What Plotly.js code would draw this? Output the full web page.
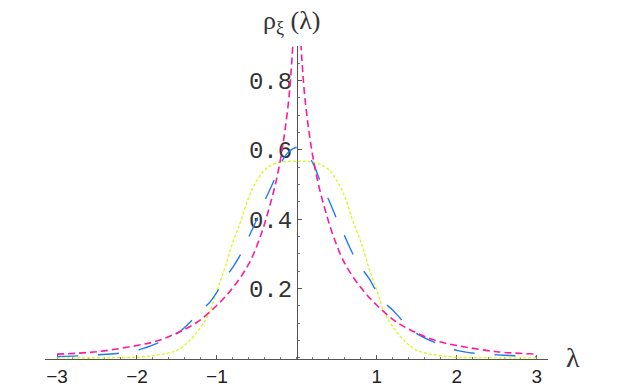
<!DOCTYPE html>
<html>
<head>
<meta charset="utf-8">
<script src="https://cdn.plot.ly/plotly-3.0.1.min.js"></script>
<style>
  body { margin: 0; background: #fff; }
  #density { width: 629px; height: 389px; }
</style>
</head>
<body>
<div id="density"></div>
<script>
// eigenvalue densities

const lambdaGrid = [-3, -2.75, -2.5, -2.25, -2, -1.75, -1.5, -1.35, -1.2, -1.1, -1, -0.9, -0.8, -0.7, -0.6, -0.5, -0.4, -0.3, -0.2, -0.1,
  0, 0.1, 0.2, 0.3, 0.4, 0.5, 0.6, 0.7, 0.8, 0.9, 1, 1.1, 1.2, 1.35, 1.5, 1.75, 2, 2.25, 2.5, 2.75, 3]

const flatRho = [0, 0, 0, 0.001, 0.002, 0.008, 0.022, 0.048, 0.09, 0.128, 0.195, 0.26, 0.335, 0.395, 0.465, 0.512, 0.543, 0.558, 0.565, 0.567,
  0.567, 0.567, 0.565, 0.558, 0.543, 0.512, 0.465, 0.395, 0.335, 0.26, 0.195, 0.128, 0.09, 0.048, 0.022, 0.008, 0.002, 0.001, 0, 0, 0]

const midRho = [0.004, 0.006, 0.009, 0.013, 0.022, 0.042, 0.07, 0.1, 0.138, 0.158, 0.19, 0.23, 0.262, 0.3, 0.35, 0.4, 0.455, 0.505, 0.562, 0.595,
  0.607, 0.595, 0.562, 0.505, 0.455, 0.4, 0.35, 0.3, 0.262, 0.23, 0.19, 0.158, 0.138, 0.1, 0.07, 0.042, 0.022, 0.013, 0.009, 0.006, 0.004]

const lambdaPeak = [-3, -2.5, -2, -1.75, -1.5, -1.25, -1, -0.8, -0.6, -0.45, -0.35, -0.27, -0.2, -0.15, -0.1, -0.07, -0.05, -0.03, -0.015,
  0.015, 0.03, 0.05, 0.07, 0.1, 0.15, 0.2, 0.27, 0.35, 0.45, 0.6, 0.8, 1, 1.25, 1.5, 1.75, 2, 2.5, 3]

const peakRho = [0.011, 0.018, 0.036, 0.049, 0.072, 0.103, 0.152, 0.203, 0.272, 0.355, 0.43, 0.5, 0.58, 0.655, 0.75, 0.835, 0.91, 1.03, 1.19,
  1.19, 1.03, 0.91, 0.835, 0.75, 0.655, 0.58, 0.5, 0.43, 0.355, 0.272, 0.203, 0.152, 0.103, 0.072, 0.049, 0.036, 0.018, 0.011]

const xTicks = [-3, -2, -1, 1, 2, 3]
const yTicks = [0.2, 0.4, 0.6, 0.8]

const density = () => {
  const data = [
    {
      x: lambdaGrid,
      y: flatRho,
      type: 'scatter',
      mode: 'lines',
      line: { color: '#d9f714', width: 1.3, dash: '3px,2px', shape: 'spline' },
    },
    {
      x: lambdaGrid,
      y: midRho,
      type: 'scatter',
      mode: 'lines',
      line: { color: '#1f78ff', width: 1.4, dash: '21px,20px', shape: 'spline' },
    },
    {
      x: lambdaPeak,
      y: peakRho,
      type: 'scatter',
      mode: 'lines',
      line: { color: '#ff1a9a', width: 1.6, dash: '7px,4px', shape: 'spline' },
    }
  ]

  const layout = {
    width: 629,
    height: 389,
    showlegend: false,
    paper_bgcolor: '#fff',
    plot_bgcolor: '#fff',
    margin: { l: 45, r: 81, t: 46, b: 30 },
    xaxis: {
      range: [-3.15, 3.14],
      showgrid: false,
      zeroline: false,
      showline: true,
      linecolor: '#555',
      linewidth: 1,
      layer: 'below traces',
      tickmode: 'array',
      tickvals: xTicks,
      ticks: 'inside',
      ticklen: 4,
      tickcolor: '#555',
      minor: { tickmode: 'linear', tick0: 0, dtick: 0.2, ticks: 'inside', ticklen: 2, tickcolor: '#777' },
      tickfont: { family: 'Liberation Sans', size: 19, color: '#222' },
    },
    yaxis: {
      range: [-0.003, 0.9],
      anchor: 'free',
      position: 0.5008,
      showgrid: false,
      zeroline: false,
      showline: true,
      linecolor: '#555',
      linewidth: 1,
      layer: 'below traces',
      tickmode: 'array',
      tickvals: yTicks,
      ticktext: yTicks.map(v => v.toFixed(1)),
      ticks: 'inside',
      ticklen: 4,
      tickcolor: '#555',
      minor: { tickmode: 'linear', tick0: 0, dtick: 0.05, ticks: 'inside', ticklen: 2.5, tickcolor: '#777' },
      tickfont: { family: 'Liberation Mono', size: 24, color: '#333' },
    },
    annotations: [
      {
        text: 'ρ<sub>ξ</sub> (λ)',
        xref: 'x', yref: 'paper',
        x: -0.06, y: 1.0, yshift: 42,
        showarrow: false,
        font: { family: 'Liberation Serif', size: 26, color: '#333' },
      },
      {
        text: 'λ',
        xref: 'paper', yref: 'y',
        x: 1.068, y: 0,
        showarrow: false,
        font: { family: 'Liberation Serif', size: 28, color: '#333' },
      }
    ],
  };

  Plotly.newPlot('density', data, layout, { displayModeBar: false });
}

// invocations

density()
</script>
</body>
</html>
